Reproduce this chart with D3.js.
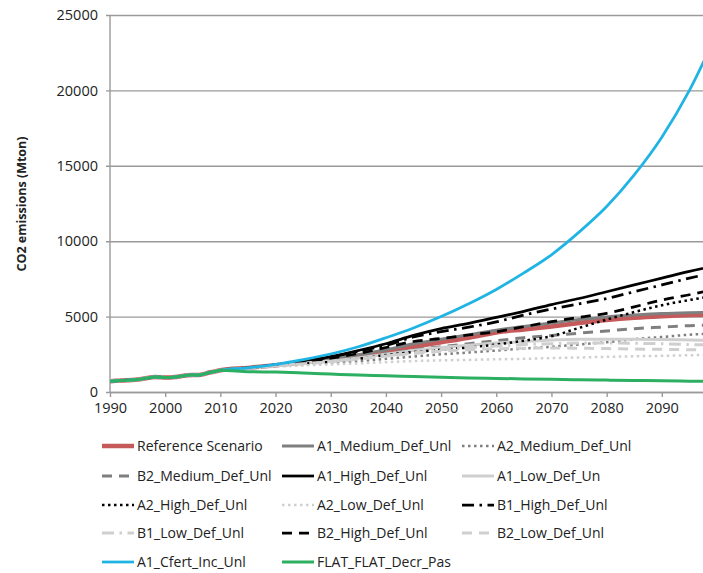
<!DOCTYPE html>
<html>
<head>
<meta charset="utf-8">
<script src="https://cdn.jsdelivr.net/npm/d3@7"></script>
<style>
  html, body { margin: 0; padding: 0; background: #fff; }
  svg { display: block; }
  text { font-family: "Open Sans", "Liberation Sans", sans-serif; fill: #222; }
</style>
</head>
<body>
<svg id="chart" width="703" height="573"></svg>
<script>
// Historical emissions shared by every scenario (annual, 1990-2010)
const histYears = d3.range(1990, 2011);
const history = [710, 740, 760, 780, 800, 830, 880, 940, 990, 980, 960, 960, 1000, 1060, 1110, 1130, 1120, 1190, 1290, 1360, 1440];

// Scenario projections (every 5 years, 2010-2100)
const projYears = d3.range(2010, 2101, 5);
const referenceScenario = [1440, 1600, 1780, 1970, 2150, 2400, 2700, 3000, 3300, 3600, 3950, 4150, 4350, 4580, 4780, 4930, 5030, 5100, 5150];
const a1MediumDefUnl   = [1440, 1600, 1780, 1990, 2200, 2470, 2800, 3200, 3500, 3800, 4100, 4350, 4580, 4800, 4980, 5100, 5200, 5260, 5300];
const a2MediumDefUnl   = [1440, 1570, 1720, 1830, 1930, 2050, 2200, 2350, 2500, 2620, 2750, 2880, 3000, 3150, 3300, 3500, 3650, 3800, 3900];
const b2MediumDefUnl   = [1440, 1590, 1760, 1940, 2100, 2300, 2550, 2800, 3000, 3200, 3400, 3600, 3750, 3900, 4050, 4200, 4300, 4400, 4450];
const a1HighDefUnl     = [1440, 1600, 1800, 2050, 2350, 2750, 3200, 3750, 4200, 4550, 4950, 5350, 5800, 6200, 6650, 7100, 7550, 8000, 8400];
const a1LowDefUn       = [1440, 1590, 1760, 1920, 2050, 2250, 2500, 2750, 2950, 3100, 3250, 3350, 3450, 3500, 3500, 3500, 3480, 3450, 3420];
const a2HighDefUnl     = [1440, 1580, 1740, 1880, 2000, 2200, 2450, 2650, 2800, 2950, 3150, 3400, 3700, 4250, 4800, 5300, 5750, 6100, 6400];
const a2LowDefUnl      = [1440, 1550, 1680, 1760, 1830, 1900, 1980, 2050, 2100, 2130, 2170, 2200, 2250, 2290, 2330, 2370, 2400, 2440, 2470];
const b1HighDefUnl     = [1440, 1600, 1790, 2030, 2320, 2700, 3100, 3650, 4000, 4300, 4650, 5100, 5500, 5850, 6200, 6650, 7100, 7550, 7950];
const b1LowDefUnl      = [1440, 1590, 1750, 1900, 2030, 2200, 2400, 2600, 2800, 2950, 3050, 3150, 3200, 3250, 3250, 3230, 3200, 3150, 3100];
const b2HighDefUnl     = [1440, 1600, 1780, 2000, 2250, 2550, 2950, 3350, 3550, 3780, 4000, 4330, 4660, 4950, 5220, 5650, 6100, 6450, 6850];
const b2LowDefUnl      = [1440, 1580, 1740, 1880, 2000, 2180, 2380, 2550, 2700, 2800, 2870, 2900, 2920, 2900, 2880, 2850, 2830, 2800, 2780];
const a1CfertIncUnl    = [1440, 1600, 1830, 2150, 2520, 3000, 3600, 4250, 5000, 5850, 6800, 7900, 9100, 10600, 12300, 14400, 16900, 20000, 23800];
const flatFlatDecrPas  = [1440, 1350, 1320, 1260, 1190, 1120, 1080, 1020, 970, 930, 900, 870, 840, 810, 790, 770, 750, 720, 690];

const seriesNames = [
  "Reference Scenario", "A1_Medium_Def_Unl", "A2_Medium_Def_Unl",
  "B2_Medium_Def_Unl", "A1_High_Def_Unl", "A1_Low_Def_Un",
  "A2_High_Def_Unl", "A2_Low_Def_Unl", "B1_High_Def_Unl",
  "B1_Low_Def_Unl", "B2_High_Def_Unl", "B2_Low_Def_Unl",
  "A1_Cfert_Inc_Unl", "FLAT_FLAT_Decr_Pas"
];
const seriesValues = [
  referenceScenario, a1MediumDefUnl, a2MediumDefUnl,
  b2MediumDefUnl, a1HighDefUnl, a1LowDefUn,
  a2HighDefUnl, a2LowDefUnl, b1HighDefUnl,
  b1LowDefUnl, b2HighDefUnl, b2LowDefUnl,
  a1CfertIncUnl, flatFlatDecrPas
];

const yTicks = [0, 5000, 10000, 15000, 20000, 25000];
const xTicks = d3.range(1990, 2091, 10);

// Line styles per series
const DARK = "#7f7f7f", LIGHT = "#cfcfcf", BLACK = "#000";
const styles = [
  { color: "#c6595a", width: 4.5, dash: null },
  { color: DARK,  width: 3,   dash: null },
  { color: DARK,  width: 2.5, dash: "2.5 3.5" },
  { color: DARK,  width: 3,   dash: "10 7" },
  { color: BLACK, width: 2.75, dash: null },
  { color: LIGHT, width: 3,   dash: null },
  { color: BLACK, width: 2.5, dash: "2.5 3.5" },
  { color: LIGHT, width: 2.5, dash: "2.5 3.5" },
  { color: BLACK, width: 2.75, dash: "12 5.5 2.5 5.5" },
  { color: LIGHT, width: 3,   dash: "12 5.5 2.5 5.5" },
  { color: BLACK, width: 2.75, dash: "10 7" },
  { color: LIGHT, width: 3,   dash: "10 7" },
  { color: "#1fb4e3", width: 2.75, dash: null },
  { color: "#2daf62", width: 3,   dash: null }
];

const series = seriesNames.map((name, i) => ({
  name,
  style: styles[i],
  points: histYears.map((yr, j) => ({ year: yr, value: history[j] }))
    .concat(projYears.slice(1).map((yr, j) => ({ year: yr, value: seriesValues[i][j + 1] })))
}));

const svg = d3.select("#chart");
const x = d3.scaleLinear().domain([1990, 2100]).range([110, 717]);
const y = d3.scaleLinear().domain([0, 25000]).range([392, 15]);

// Horizontal gridlines with outside tick marks
const yAxis = d3.axisLeft(y).tickValues(yTicks).tickFormat(d3.format("d"))
  .tickSize(-(717 - 110)).tickSizeOuter(0).tickPadding(12);
const gy = svg.append("g").attr("transform", "translate(110,0)").call(yAxis);
gy.select(".domain").remove();
gy.selectAll(".tick line").attr("stroke", "#9a9a9a").attr("stroke-width", 1.4).attr("x1", -4);
gy.selectAll(".tick text").attr("font-size", 14.5).attr("fill", "#222").attr("font-family", "'Open Sans', sans-serif");

// Vertical axis line
svg.append("line").attr("x1", 110).attr("x2", 110).attr("y1", 15).attr("y2", 392)
  .attr("stroke", "#9a9a9a").attr("stroke-width", 1.4);

// X axis
const xAxis = d3.axisBottom(x).tickValues(xTicks).tickFormat(d3.format("d")).tickSize(5).tickSizeOuter(0).tickPadding(6);
const gx = svg.append("g").attr("transform", "translate(0,392)").call(xAxis);
gx.select(".domain").attr("stroke", "#9a9a9a").attr("stroke-width", 1.4);
gx.selectAll(".tick line").attr("stroke", "#9a9a9a").attr("stroke-width", 1.4);
gx.selectAll(".tick text").attr("font-size", 14.5).attr("fill", "#222").attr("font-family", "'Open Sans', sans-serif");

// Y axis title
svg.append("text")
  .attr("transform", "translate(26,204) rotate(-90)")
  .attr("text-anchor", "middle")
  .attr("font-size", 12.5)
  .attr("font-weight", "bold")
  .text("CO2 emissions (Mton)");

// Scenario lines
svg.append("clipPath").attr("id", "plotClip")
  .append("rect").attr("x", 110).attr("y", 0).attr("width", 607).attr("height", 392);

const line = d3.line().x(d => x(d.year)).y(d => y(d.value)).curve(d3.curveMonotoneX);
const plot = svg.append("g").attr("clip-path", "url(#plotClip)");
plot.selectAll("path.series")
  .data(series)
  .join("path")
  .attr("class", "series")
  .attr("fill", "none")
  .attr("stroke", d => d.style.color)
  .attr("stroke-width", d => d.style.width)
  .attr("stroke-dasharray", d => d.style.dash)
  .attr("stroke-linejoin", "round")
  .attr("d", d => line(d.points));

// Legend: three columns, row-major
const colSample = [102, 282, 462];
const colText = [137, 317, 497];
const rowY = [446, 476, 505, 533, 562];
const legend = svg.append("g");
series.forEach((s, i) => {
  const col = i % 3, row = Math.floor(i / 3);
  const ly = rowY[row];
  legend.append("line")
    .attr("x1", colSample[col]).attr("x2", colSample[col] + 32)
    .attr("y1", ly).attr("y2", ly)
    .attr("stroke", s.style.color)
    .attr("stroke-width", s.style.width)
    .attr("stroke-dasharray", s.style.dash);
  legend.append("text")
    .attr("x", colText[col]).attr("y", ly)
    .attr("dy", "0.35em")
    .attr("font-size", 14)
    .text(s.name);
});
</script>
</body>
</html>
